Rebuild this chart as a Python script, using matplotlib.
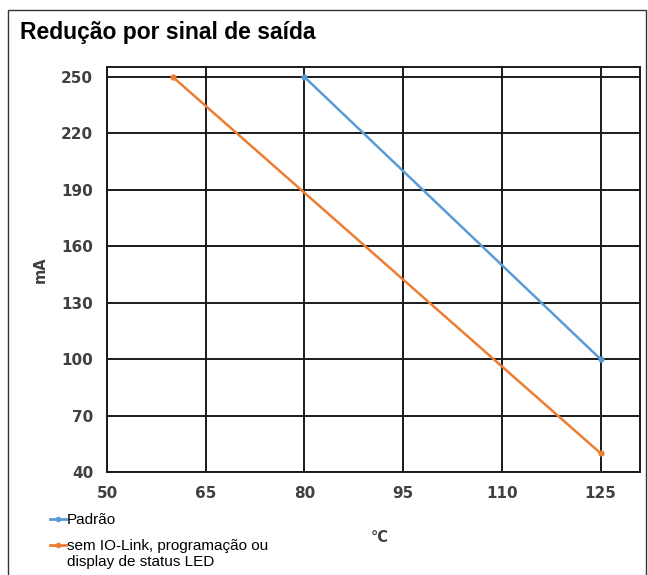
import matplotlib.pyplot as plt
from matplotlib.patches import Rectangle
from matplotlib.lines import Line2D

# data
padrao_x = [80, 125]
padrao_y = [250, 100]
sem_io_x = [60, 125]
sem_io_y = [250, 50]
x_ticks = [50, 65, 80, 95, 110, 125]
y_ticks = [40, 70, 100, 130, 160, 190, 220, 250]

blue = "#5b9bd5"
orange = "#ed7d31"

fig = plt.figure(figsize=(6.48, 5.75), dpi=100)
W, H = 648, 575


def fx(px):
    return px / W


def fy(py):
    return 1 - py / H


# outer frame
fig.patches.append(Rectangle((fx(8), -0.01), 638 / W, 1 - 10 / H + 0.01,
                             transform=fig.transFigure, fill=False,
                             edgecolor="#333333", linewidth=1.0))

fig.text(fx(20), fy(33), "Redução por sinal de saída", fontsize=16.5,
         fontweight="bold", family="Liberation Sans", va="center", ha="left")

ax = fig.add_axes([fx(107), fy(472), (640 - 107) / W, (472 - 67) / H])
ax.plot(padrao_x, padrao_y, color=blue, lw=1.8, marker="o", ms=3.5, zorder=3)
ax.plot(sem_io_x, sem_io_y, color=orange, lw=1.8, marker="o", ms=3.5, zorder=3)

ax.set_xlim(50, 131)
ax.set_ylim(40, 255.3)
ax.set_xticks(x_ticks)
ax.set_yticks(y_ticks)
ax.grid(True, color="#1a1a1a", linewidth=1.4)
ax.set_axisbelow(True)
for s in ax.spines.values():
    s.set_color("#1a1a1a")
    s.set_linewidth(1.4)
ax.tick_params(length=0, pad=10, labelsize=11, labelcolor="#404040")
for lab in ax.get_xticklabels() + ax.get_yticklabels():
    lab.set_fontweight("bold")

fig.text(fx(40), fy(270), "mA", fontsize=10.5, fontweight="bold",
         color="#404040", rotation=90, va="center", ha="center")
fig.text(fx(380), fy(537), "°C", fontsize=10.5, fontweight="bold",
         color="#404040", va="center", ha="center")

# legend drawn by hand so the orange key sits on the first text line
legend_items = [(blue, "Padrão", 519),
                (orange, "sem IO-Link, programação ou\ndisplay de status LED", 545)]
for color, label, py in legend_items:
    fig.add_artist(Line2D([fx(50), fx(66)], [fy(py), fy(py)], color=color,
                          lw=2, transform=fig.transFigure))
    fig.add_artist(Line2D([fx(58)], [fy(py)], color=color, marker="o", ms=3,
                          transform=fig.transFigure))
    fig.text(fx(67), fy(py - 6), label, fontsize=11, family="Liberation Sans",
             va="top", ha="left", linespacing=1.2)

fig.savefig("out.png", dpi=100)
